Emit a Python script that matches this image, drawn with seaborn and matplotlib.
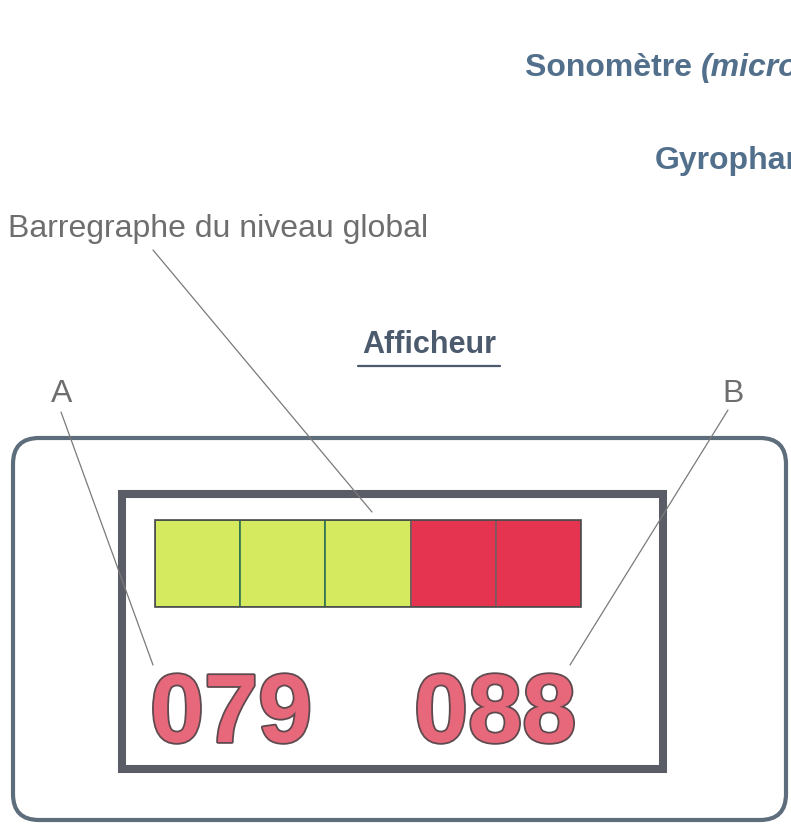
import matplotlib
matplotlib.use("Agg")
import matplotlib.pyplot as plt
import matplotlib.patheffects as pe
from matplotlib.patches import FancyBboxPatch, Rectangle
import seaborn as sns

# --- data ---
segments = [1, 2, 3, 4, 5]
segment_state = ["vert", "vert", "vert", "rouge", "rouge"]
reading_a = "079"
reading_b = "088"
title_top = "Sonomètre "
title_top_italic = "(microphone)"
title_gyro = "Gyrophare"
label_bar = "Barregraphe du niveau global"
label_display = "Afficheur"
label_a = "A"
label_b = "B"

state_colors = {"vert": "#d5ea5e", "rouge": "#e5344f"}
state_edges = {"vert": "#2f7352", "rouge": "#7a5a60"}

sns.set_theme(style="white")
plt.rcParams["font.family"] = ["Liberation Sans", "DejaVu Sans"]

W, H = 791, 826
fig = plt.figure(figsize=(W / 100, H / 100), dpi=100)
ax = fig.add_axes([0, 0, 1, 1])
ax.set_xlim(0, W)
ax.set_ylim(H, 0)
ax.axis("off")

# titles
t1 = ax.text(525, 76, title_top, fontsize=23, fontweight="bold", color="#52708c",
             ha="left", va="baseline")
fig.canvas.draw()
bb = t1.get_window_extent()
ax.annotate(title_top_italic, xy=(525, 76), xycoords="data",
            xytext=(bb.width * 72 / 100, 0), textcoords="offset points",
            fontsize=23, fontweight="bold", fontstyle="italic", color="#52708c",
            ha="left", va="baseline")
ax.text(655, 169, title_gyro, fontsize=23, fontweight="bold", color="#52708c",
        ha="left", va="baseline")
ax.text(8, 237, label_bar, fontsize=23, color="#6e6e6e", ha="left", va="baseline")
ax.text(429, 353, label_display, fontsize=22, fontweight="bold", color="#4c5a6e",
        ha="center", va="baseline")
ax.plot([358, 500], [366, 366], color="#4c5a6e", lw=1.6)
ax.text(62, 402, label_a, fontsize=23, color="#6e6e6e", ha="center", va="baseline")
ax.text(733, 402, label_b, fontsize=23, color="#6e6e6e", ha="center", va="baseline")

# outer housing and display frame
housing = FancyBboxPatch((13, 438), 773, 382,
                         boxstyle="round,pad=0,rounding_size=26",
                         fill=False, ec="#5d6d7c", lw=3.0)
ax.add_patch(housing)
frame = Rectangle((122, 493.5), 541, 275.5, fill=False, ec="#5b5d66", lw=5.8)
ax.add_patch(frame)

# leader lines
lead = dict(color="#7a7a7a", lw=0.9)
ax.plot([153, 372], [250, 512], **lead)
ax.plot([61, 153], [412, 665], **lead)
ax.plot([728, 570], [410, 665], **lead)

# numeric readings
fx = [pe.withStroke(linewidth=2.6, foreground="#5e4a4e")]
ax.text(150, 742, reading_a, fontsize=70, fontweight="bold", color="#e6687a",
        ha="left", va="baseline", path_effects=fx)
ax.text(414, 742, reading_b, fontsize=70, fontweight="bold", color="#e6687a",
        ha="left", va="baseline", path_effects=fx)

# bargraph drawn with seaborn in its own axes
bx = fig.add_axes([155 / W, 1 - 607 / H, 426 / W, 87 / H])
palette = [state_colors[s] for s in segment_state]
sns.barplot(x=segments, y=[1] * len(segments), hue=segments, palette=palette,
            width=1.0, legend=False, ax=bx, saturation=1)
for p, s in zip(bx.patches, segment_state):
    p.set_edgecolor(state_edges[s])
    p.set_linewidth(1.2)
bx.set_xlim(-0.5, len(segments) - 0.5)
bx.set_ylim(0, 1)
bx.axis("off")
bx.add_patch(Rectangle((0, 0), 1, 1, transform=bx.transAxes, fill=False,
                       ec="#4a4a4a", lw=1.2, clip_on=False))

fig.savefig("out.png", dpi=100)
